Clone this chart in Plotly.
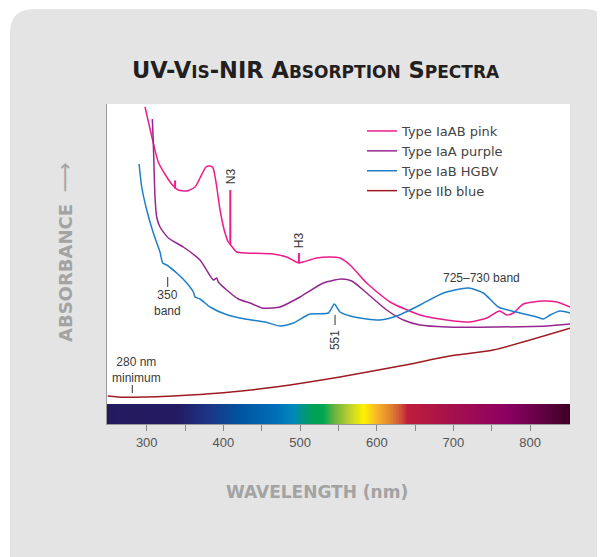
import numpy as np
import plotly.graph_objects as go

# ---------------- data (wavelength nm, absorbance arbitrary units) ----------------
pink_nm = [297.8, 308.6, 315.1, 326.1, 334.7, 341.2, 352.2, 363.0, 369.5,
           377.3, 382.5, 386.5, 391.3, 395.6, 402.1, 406.4, 409.0, 417.4, 430.4,
           464.7, 482.6, 498.5, 503.9, 521.7, 539.1, 552.1, 565.2, 586.9,
           617.3, 656.5, 691.3, 721.3, 743.5, 759.9, 769.5, 778.2, 791.2, 817.3, 834.8, 852.0]
pink_abs = [2.97, 2.61, 2.42, 2.27, 2.18, 2.14, 2.13, 2.17, 2.26,
            2.37, 2.38, 2.36, 2.17, 1.94, 1.71, 1.62, 1.595, 1.52, 1.51,
            1.50, 1.47, 1.41, 1.42, 1.46, 1.47, 1.46, 1.39, 1.21,
            1.02, 0.89, 0.84, 0.82, 0.86, 0.93, 0.89, 0.91, 1.00, 1.03, 1.02, 0.97]
# sharp absorption lines on the pink spectrum: wavelength, base, top
pink_line_nm = [337.0, 409.0, 498.5]
pink_line_base = [2.155, 1.595, 1.41]
pink_line_top = [2.235, 2.14, 1.51]

purple_nm = [307.3, 308.6, 310.8, 313.0, 317.3, 328.2, 347.7, 369.5, 386.9, 391.3, 393.4,
             404.3, 419.5, 434.7, 450.4, 463.4, 473.9, 500.0, 530.3, 554.3, 567.4, 586.9,
             613.0, 634.7, 656.5, 691.3, 756.5, 821.7, 852.0]
purple_abs = [2.85, 2.61, 2.07, 1.87, 1.77, 1.66, 1.57, 1.44, 1.24, 1.26, 1.22,
              1.14, 1.05, 1.01, 0.96, 0.96, 0.97, 1.07, 1.21, 1.25, 1.23, 1.11,
              0.94, 0.84, 0.79, 0.77, 0.77, 0.78, 0.80]

blue_nm = [290.0, 293.5, 300.0, 308.6, 317.3, 320.9, 326.1, 339.1, 352.2, 360.8, 363.0, 369.5,
           382.6, 402.1, 428.2, 454.3, 473.9, 491.2, 513.0, 536.9, 544.7, 552.1, 565.2, 586.9,
           604.3, 626.1, 656.5, 686.9, 719.5, 739.0, 758.6, 786.9, 808.7, 817.3, 826.0, 839.0, 852.0]
blue_abs = [2.40, 2.17, 1.94, 1.71, 1.52, 1.41, 1.39, 1.31, 1.21, 1.12, 1.07, 1.05,
            0.97, 0.90, 0.85, 0.82, 0.78, 0.81, 0.90, 0.91, 1.00, 0.92, 0.88, 0.85,
            0.84, 0.88, 0.99, 1.11, 1.16, 1.11, 0.97, 0.91, 0.87, 0.85, 0.89, 0.93, 0.91]

red_nm = [249.1, 269.5, 282.5, 313.0, 356.5, 399.9, 443.5, 487.0, 552.0, 630.4, 695.6, 752.0, 852.0]
red_abs = [0.08, 0.067, 0.067, 0.073, 0.09, 0.113, 0.147, 0.19, 0.27, 0.38, 0.48, 0.54, 0.757]

series_names = ["Type IaAB pink", "Type IaA purple", "Type IaB HGBV", "Type IIb blue"]
series_colors = ["#ec1c8c", "#93278f", "#1f7fc8", "#9e1b22"]

tick_nm = [300, 350, 400, 450, 500, 550, 600, 650, 700, 750, 800]
tick_text = ["300", "", "400", "", "500", "", "600", "", "700", "", "800"]

# visible spectrum bar: colour stops
spec_nm = [248, 340, 380, 420, 470, 490, 515, 530, 545, 565, 583, 600, 618, 633, 640, 690, 770, 820, 852]
spec_col = ["#231a5e", "#231a63", "#1c3585", "#00539f", "#0070b8", "#0088bc", "#00a05a", "#00a651",
            "#6ab43e", "#c0d22c", "#fff200", "#f7b52a", "#e0832f", "#cc4a3a", "#be1e3c", "#a8124a",
            "#8c0062", "#5e0040", "#3c0024"]

X_MIN, X_MAX = 248.2, 852.0
Y_MAX = 3.0

# ---------------- layout geometry (page pixels; page has an 8px body margin) ----------------
OFF = 8
W, H = 605 - OFF, 557 - OFF
BOX_L, BOX_R, BOX_T, BOX_B = 107, 570, 104, 424      # plot box in page pixels
L, T = BOX_L - OFF, BOX_T - OFF
R, B = W - (BOX_R - OFF), H - (BOX_B - OFF)
PW, PH = BOX_R - BOX_L, BOX_B - BOX_T


def px(x):
    return (x - BOX_L) / PW


def py(y):
    return (BOX_B - y) / PH


fig = go.Figure()

for nm, ab, name, col in zip([pink_nm, purple_nm, blue_nm, red_nm],
                             [pink_abs, purple_abs, blue_abs, red_abs],
                             series_names, series_colors):
    fig.add_trace(go.Scatter(x=nm, y=ab, mode="lines", name=name,
                             line=dict(color=col, width=1.5, shape="spline", smoothing=0.6),
                             xaxis="x", yaxis="y", hoverinfo="skip"))

# sharp lines (N3, H3 and the 337 nm feature) on the pink spectrum
lx, ly = [], []
for n, b0, t0 in zip(pink_line_nm, pink_line_base, pink_line_top):
    lx += [n, n, None]
    ly += [b0, t0, None]
fig.add_trace(go.Scatter(x=lx, y=ly, mode="lines", showlegend=False, hoverinfo="skip",
                         line=dict(color=series_colors[0], width=2), xaxis="x", yaxis="y"))

# spectrum bar as heatmap
grid = np.arange(248, 853, 1)
cs = [[(n - spec_nm[0]) / (spec_nm[-1] - spec_nm[0]), c] for n, c in zip(spec_nm, spec_col)]
fig.add_trace(go.Heatmap(x=grid, y=[0.5], z=[grid], colorscale=cs, zmin=spec_nm[0], zmax=spec_nm[-1],
                         showscale=False, xaxis="x", yaxis="y2", hoverinfo="skip"))

ann_font = dict(family="Liberation Sans, Arial, sans-serif", size=12, color="#3a3a3a")
annotations = [
    dict(x=410.1, y=2.28, text="N3", textangle=-90),
    dict(x=498.8, y=1.64, text="H3", textangle=-90),
    dict(x=326.5, y=1.015, text="350<br>band"),
    dict(x=545.6, y=0.64, text="551", textangle=-90),
    dict(x=736.7, y=1.263, text="725–730 band"),
    dict(x=287.0, y=0.343, text="280 nm<br>minimum"),
]
for a in annotations:
    a.update(xref="x", yref="y", showarrow=False, font=ann_font)

HEAD = "DejaVu Sans, sans-serif"
annotations += [
    dict(xref="paper", yref="paper", x=px(316), y=py(70), showarrow=False,
         text='<b>UV-V<span style="font-size:17px">IS</span>-NIR A<span style="font-size:17px">BSORPTION</span> '
              'S<span style="font-size:17px">PECTRA</span></b>',
         font=dict(family=HEAD, size=22.5, color="#231f20"), xanchor="center", yanchor="middle"),
    dict(xref="paper", yref="paper", x=px(65), y=py(252), showarrow=False, textangle=-90,
         text='<b>ABSORBANCE</b>  <span style="font-size:21px">⟶</span>',
         font=dict(family=HEAD, size=18, color="#a3a3a3"), xanchor="center", yanchor="middle"),
    dict(xref="paper", yref="paper", x=px(316.7), y=py(491.7), showarrow=False,
         text="<b>WAVELENGTH (nm)</b>",
         font=dict(family=HEAD, size=17, color="#a3a3a3"), xanchor="center", yanchor="middle"),
]

shapes = [
    # card background
    dict(type="path", xref="paper", yref="paper", layer="below", line=dict(width=0), fillcolor="#e4e4e4",
         path=(f"M {px(10)} {py(570)} L {px(10)} {py(33)} Q {px(10)} {py(9)} {px(34)} {py(9)} "
               f"L {px(585)} {py(9)} Q {px(605)} {py(9)} {px(605)} {py(29)} L {px(615)} {py(570)} Z")),
    # white plot area
    dict(type="rect", xref="paper", yref="paper", layer="below", x0=0, x1=1, y0=0, y1=1,
         line=dict(width=0), fillcolor="white"),
    # leader ticks
    dict(type="line", xref="x", yref="y", x0=327.4, x1=327.4, y0=1.17, y1=1.27, line=dict(color="#333", width=1)),
    dict(type="line", xref="x", yref="y", x0=281.2, x1=281.2, y0=0.11, y1=0.19, line=dict(color="#333", width=1)),
    dict(type="line", xref="x", yref="y", x0=545.6, x1=545.6, y0=0.79, y1=0.89, line=dict(color="#333", width=1)),
]

fig.update_layout(
    width=W, height=H,
    margin=dict(l=L, r=R, t=T, b=B, pad=0),
    paper_bgcolor="white", plot_bgcolor="white",
    showlegend=True,
    legend=dict(x=px(362), y=py(116), xanchor="left", yanchor="top", bgcolor="rgba(0,0,0,0)",
                font=dict(family="DejaVu Sans, sans-serif", size=13, color="#444"),
                itemwidth=30, tracegroupgap=0),
    xaxis=dict(range=[X_MIN, X_MAX], anchor="y2", tickmode="array", tickvals=tick_nm, ticktext=tick_text,
               ticks="outside", ticklen=6, tickcolor="#888", tickwidth=1, showgrid=False, zeroline=False,
               showline=True, linecolor="#999", linewidth=1,
               tickfont=dict(family="Liberation Sans, Arial, sans-serif", size=13, color="#555")),
    yaxis=dict(domain=[20 / PH, 1], range=[0, Y_MAX], showticklabels=False, ticks="", showgrid=False,
               zeroline=False, showline=True, linecolor="#999", linewidth=1),
    yaxis2=dict(domain=[0, 20 / PH], range=[0, 1], showticklabels=False, ticks="", showgrid=False,
                zeroline=False, showline=True, linecolor="#999", linewidth=1),
    annotations=annotations,
    shapes=shapes,
)

fig.write_html("out.html")
